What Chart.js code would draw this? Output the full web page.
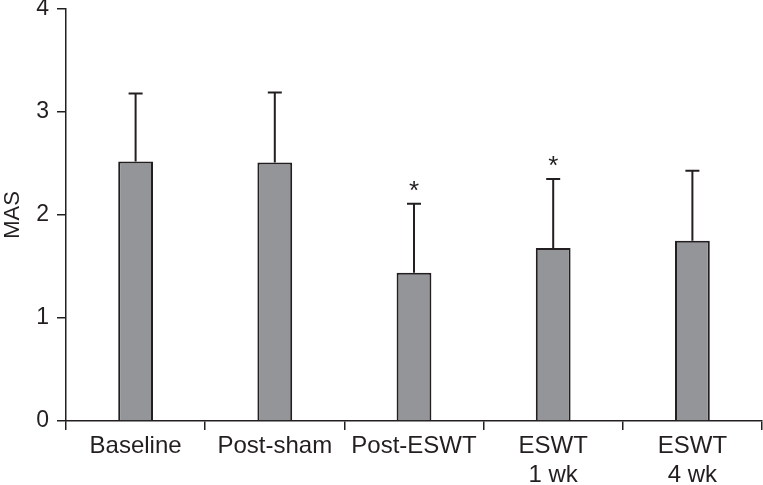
<!DOCTYPE html>
<html lang="en">
<head>
    <meta charset=utf-8>
    <title>MAS bar chart</title>
    <script src="https://cdn.jsdelivr.net/npm/chart.js@4.4.1/dist/chart.umd.min.js"></script>
    <style>
        html, body { margin: 0; padding: 0; background: #fff; }
        #wrap { width: 763px; height: 485px; }
    </style>
</head>
<body>
<div id="wrap"><canvas id="myChart"></canvas></div>
<script>
    var labels = ['Baseline', 'Post-sham', 'Post-ESWT', ['ESWT', '1 wk'], ['ESWT', '4 wk']];
    var means = [2.52, 2.51, 1.44, 1.68, 1.75];
    var upper = [3.18, 3.19, 2.11, 2.35, 2.43];
    var marks = ['', '', '*', '*', ''];
    var yTicks = [0, 1, 2, 3, 4];

    var ink = '#231f20';
    var font = "'Liberation Sans', Arial, sans-serif";

    var errorBars = {
        id: 'errorBars',
        afterDatasetsDraw: function (chart) {
            var ctx = chart.ctx;
            var y = chart.scales.y;
            var meta = chart.getDatasetMeta(0);
            ctx.save();
            ctx.strokeStyle = ink;
            ctx.lineWidth = 2;
            ctx.fillStyle = ink;
            ctx.font = '26px ' + font;
            ctx.textAlign = 'center';
            ctx.textBaseline = 'middle';
            meta.data.forEach(function (bar, i) {
                var top = y.getPixelForValue(upper[i]);
                ctx.beginPath();
                ctx.moveTo(bar.x, bar.y);
                ctx.lineTo(bar.x, top);
                ctx.moveTo(bar.x - 7, top);
                ctx.lineTo(bar.x + 7, top);
                ctx.stroke();
                if (marks[i]) ctx.fillText(marks[i], bar.x, top - 12);
            });
            ctx.restore();
        }
    };

    new Chart(document.getElementById('myChart'), {
        type: 'bar',
        data: {
            labels: labels,
            datasets: [{
                data: means,
                backgroundColor: '#939598',
                borderColor: ink,
                borderWidth: 2,
                categoryPercentage: 1,
                barPercentage: 0.25
            }]
        },
        options: {
            responsive: true,
            maintainAspectRatio: false,
            animation: false,
            layout: {padding: {top: 9, right: 1}},
            plugins: {legend: {display: false}, tooltip: {enabled: false}},
            scales: {
                x: {
                    offset: true,
                    grid: {offset: true, drawOnChartArea: false, color: ink, lineWidth: 1.5, tickLength: 9},
                    border: {color: ink, width: 1.5},
                    ticks: {color: ink, font: {family: font, size: 24}, padding: 2, maxRotation: 0, autoSkip: false},
                    afterFit: function (s) { s.height = 64; }
                },
                y: {
                    min: 0, max: 4,
                    afterBuildTicks: function (s) { s.ticks = yTicks.map(function (v) { return {value: v}; }); },
                    grid: {drawOnChartArea: false, color: ink, lineWidth: 1.5, tickLength: 9},
                    border: {color: ink, width: 1.5},
                    ticks: {color: ink, font: {family: font, size: 23}, padding: 8},
                    title: {display: true, text: 'MAS', color: ink, font: {family: font, size: 22}, padding: {top: 0, bottom: 0}},
                    afterFit: function (s) { s.width = 66; s.paddingTop = 0; s.paddingBottom = 0; }
                }
            }
        },
        plugins: [errorBars]
    });
</script>
</body>
</html>
